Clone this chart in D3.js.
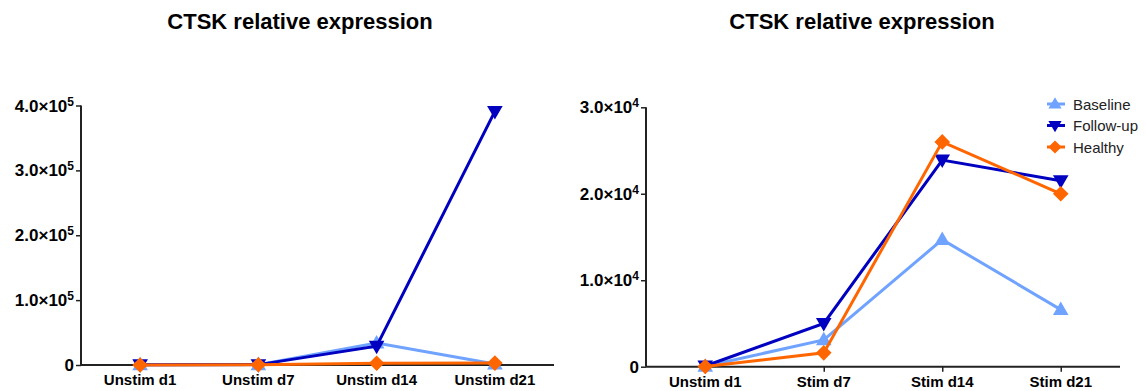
<!DOCTYPE html>
<html><head><meta charset="utf-8">
<script src="https://cdn.jsdelivr.net/npm/d3@7"></script>
<style>body{margin:0;background:#fff}svg{display:block}</style>
</head><body>
<svg id="c" width="1146" height="391"></svg>
<script>
const title = "CTSK relative expression";
const seriesNames = ["Baseline", "Follow-up", "Healthy"];
const seriesColors = ["#6fa3ff", "#0000c0", "#ff6600"];
const seriesSymbols = ["triangleUp", "triangleDown", "diamond"];

const leftCategories = ["Unstim d1", "Unstim d7", "Unstim d14", "Unstim d21"];
const leftBaseline = [200, 500, 34000, 1500];
const leftFollowUp = [300, 600, 29000, 391000];
const leftHealthy = [100, 400, 2600, 2900];
const leftTicks = [0, 100000, 200000, 300000, 400000];
const leftTickLabels = ["0", "1.0×10|5", "2.0×10|5", "3.0×10|5", "4.0×10|5"];

const rightCategories = ["Unstim d1", "Stim d7", "Stim d14", "Stim d21"];
const rightBaseline = [50, 3100, 14700, 6600];
const rightFollowUp = [80, 5000, 23900, 21500];
const rightHealthy = [30, 1600, 26000, 20000];
const rightTicks = [0, 10000, 20000, 30000];
const rightTickLabels = ["0", "1.0×10|4", "2.0×10|4", "3.0×10|4"];

const svg = d3.select("#c");
const font = "Liberation Sans, Arial, Helvetica, sans-serif";

function drawMarker(g, type, color, size) {
  const s = size;
  let path;
  if (type === "triangleUp") path = `M0,${-s*0.62}L${s*0.6},${s*0.42}L${-s*0.6},${s*0.42}Z`;
  else if (type === "triangleDown") path = `M0,${s*0.62}L${s*0.6},${-s*0.42}L${-s*0.6},${-s*0.42}Z`;
  else path = `M0,${-s*0.6}L${s*0.6},0L0,${s*0.6}L${-s*0.6},0Z`;
  g.append("path").attr("d", path).attr("fill", color);
}

function panel(opts) {
  const {x0, x1, yTop, yBot, cats, series, ticks, tickLabels, maxY, titleX, legend} = opts;
  const g = svg.append("g");
  const x = d3.scalePoint().domain(cats).range([x0, x1]).padding(0.5);
  const y = d3.scaleLinear().domain([0, maxY]).range([yBot, yTop]);

  g.append("text").attr("x", titleX).attr("y", 29).attr("text-anchor", "middle")
    .attr("font-family", font).attr("font-weight", "bold").attr("font-size", 22)
    .attr("fill", "#000").text(title);

  // y axis
  const ya = g.append("g").attr("transform", `translate(${x0},0)`)
    .call(d3.axisLeft(y).tickValues(ticks).tickSize(5).tickFormat(""));
  ya.select(".domain").attr("stroke", "#222").attr("stroke-width", 2).attr("d", `M0,${yTop}V${yBot}`);
  ya.selectAll(".tick line").attr("stroke", "#222").attr("stroke-width", 1.5);
  ticks.forEach((t, i) => {
    const parts = tickLabels[i].split("|");
    const tx = g.append("text").attr("x", x0 - 7).attr("y", y(t) + 6)
      .attr("text-anchor", "end").attr("font-family", font).attr("font-weight", "bold")
      .attr("font-size", 17).attr("fill", "#000");
    tx.append("tspan").text(parts[0]);
    if (parts[1]) tx.append("tspan").attr("dy", -6).attr("font-size", 12).text(parts[1]);
  });

  // x axis
  const xa = g.append("g").attr("transform", `translate(0,${yBot})`)
    .call(d3.axisBottom(x).tickSize(5).tickFormat(""));
  xa.select(".domain").attr("stroke", "#222").attr("stroke-width", 2).attr("d", `M${x0},0H${x1}`);
  xa.selectAll(".tick line").attr("stroke", "#222").attr("stroke-width", 1.5);
  cats.forEach(c => {
    g.append("text").attr("x", x(c)).attr("y", yBot + 20).attr("text-anchor", "middle")
      .attr("font-family", font).attr("font-weight", "bold").attr("font-size", 15)
      .attr("fill", "#000").text(c);
  });

  const line = d3.line().x((d, i) => x(cats[i])).y(d => y(d));
  series.forEach((vals, si) => {
    g.append("path").datum(vals).attr("d", line).attr("fill", "none")
      .attr("stroke", seriesColors[si]).attr("stroke-width", 3).attr("stroke-linejoin", "miter");
    vals.forEach((v, i) => {
      const m = g.append("g").attr("transform", `translate(${x(cats[i])},${y(v)})`);
      drawMarker(m, seriesSymbols[si], seriesColors[si], 13);
    });
  });

  if (legend) {
    seriesNames.forEach((n, i) => {
      const ly = legend.y + i * 21.5;
      g.append("line").attr("x1", legend.x - 8).attr("x2", legend.x + 10).attr("y1", ly).attr("y2", ly)
        .attr("stroke", seriesColors[i]).attr("stroke-width", 3);
      const m = g.append("g").attr("transform", `translate(${legend.x},${ly})`);
      drawMarker(m, seriesSymbols[i], seriesColors[i], 11);
      g.append("text").attr("x", legend.x + 18).attr("y", ly + 5.5)
        .attr("font-family", font).attr("font-size", 15).attr("fill", "#222").text(n);
    });
  }
}

panel({x0: 81, x1: 554, yTop: 105.5, yBot: 365, cats: leftCategories,
  series: [leftBaseline, leftFollowUp, leftHealthy], ticks: leftTicks, tickLabels: leftTickLabels,
  maxY: 400000, titleX: 300});
panel({x0: 646, x1: 1120, yTop: 107.3, yBot: 366.7, cats: rightCategories,
  series: [rightBaseline, rightFollowUp, rightHealthy], ticks: rightTicks, tickLabels: rightTickLabels,
  maxY: 30000, titleX: 862, legend: {x: 1055, y: 104}});
</script>
</body></html>
